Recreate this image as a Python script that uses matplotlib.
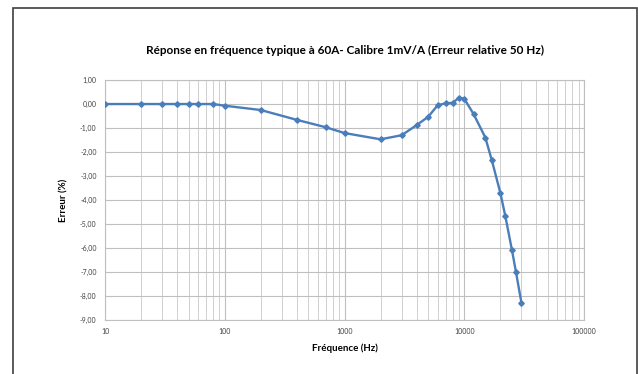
import matplotlib
matplotlib.use("Agg")
import matplotlib.pyplot as plt
from matplotlib.ticker import FixedLocator, FuncFormatter, LogLocator, NullFormatter
from matplotlib.patches import Rectangle

freq_hz = [10, 20, 30, 40, 50, 60, 80, 100, 200, 400, 700, 1000, 2000, 3000,
           4000, 5000, 6000, 7000, 8000, 9000, 10000, 12000, 15000, 17000,
           20000, 22000, 25000, 27000, 30000]
erreur_pct = [0.0, 0.0, 0.0, 0.0, 0.0, 0.0, 0.0, -0.07, -0.25, -0.66, -0.97,
              -1.21, -1.47, -1.30, -0.88, -0.53, -0.05, 0.03, 0.05, 0.26,
              0.22, -0.43, -1.40, -2.35, -3.70, -4.66, -6.08, -6.99, -8.28]
y_ticks = [1, 0, -1, -2, -3, -4, -5, -6, -7, -8, -9]
x_ticks = [10, 100, 1000, 10000, 100000]

title = "Réponse en fréquence typique à 60A- Calibre 1mV/A (Erreur relative 50 Hz)"

plt.rcParams["font.family"] = ["Lato", "DejaVu Sans"]

fig = plt.figure(figsize=(6.38, 3.74), dpi=100)
ax = fig.add_axes([0.1646, 0.1444, 0.7508, 0.6416])

# chart border like the spreadsheet frame
fig.patches.append(Rectangle((13 / 638, -0.1), (637 - 13) / 638, 1.1 - 8 / 374,
                             transform=fig.transFigure, fill=False,
                             edgecolor="#404040", linewidth=1.2))

ax.plot(freq_hz, erreur_pct, color="#4a7ebb", linewidth=1.7,
        marker="D", markersize=2.8, zorder=3)

ax.set_xscale("log")
ax.set_xlim(10, 100000)
ax.set_ylim(-9, 1)
ax.xaxis.set_major_locator(FixedLocator(x_ticks))
ax.xaxis.set_major_formatter(FuncFormatter(lambda v, p: f"{int(v)}"))
ax.xaxis.set_minor_locator(LogLocator(base=10, subs=range(2, 10)))
ax.xaxis.set_minor_formatter(NullFormatter())
ax.set_yticks(y_ticks)
ax.yaxis.set_major_formatter(FuncFormatter(lambda v, p: f"{v:.2f}".replace(".", ",")))

ax.grid(True, which="major", color="#bfbfbf", linewidth=0.8)
ax.grid(True, which="minor", axis="x", color="#d0d0d0", linewidth=0.7)
ax.set_axisbelow(True)
for s in ax.spines.values():
    s.set_color("#bfbfbf")
    s.set_linewidth(0.8)
ax.tick_params(which="both", length=0, labelsize=5, colors="#404040", pad=6)

ax.set_title(title, fontsize=8.5, fontweight="bold", pad=19)
ax.set_xlabel("Fréquence (Hz)", fontsize=7, fontweight="bold", labelpad=6)
ax.set_ylabel("Erreur (%)", fontsize=7, fontweight="bold", labelpad=8)

fig.savefig("out.png", dpi=100)
